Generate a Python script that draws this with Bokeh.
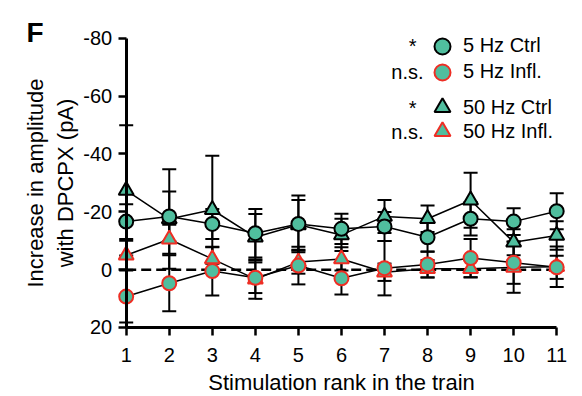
from bokeh.plotting import figure
from bokeh.models import (Range1d, FixedTicker, PrintfTickFormatter, Whisker, TeeHead,
                          ColumnDataSource, Legend, LegendItem, Label)
from bokeh.embed import file_html
from bokeh.resources import INLINE

# ---- data ----
ranks = [1, 2, 3, 4, 5, 6, 7, 8, 9, 10, 11]
ctrl5 = [-16.6, -18.4, -15.8, -12.6, -15.8, -14.1, -14.9, -11.2, -17.6, -16.6, -20.2]
ctrl5_sem = [6.0, 8.6, 5.2, 8.4, 9.8, 5.2, 5.0, 5.0, 5.8, 4.6, 6.2]
infl5 = [9.3, 4.7, 0.5, 2.8, -1.4, 3.0, -0.5, -1.8, -4.0, -2.4, -0.8]
infl5_sem = [9.0, 9.7, 8.4, 5.3, 6.5, 5.6, 9.4, 4.5, 6.6, 7.3, 4.0]
ctrl50 = [-27.4, -17.5, -20.7, -11.2, -15.5, -12.0, -18.4, -17.6, -24.0, -9.5, -11.8]
ctrl50_sem = [22.5, 17.2, 18.7, 8.0, 8.6, 5.6, 5.7, 4.6, 9.5, 4.5, 4.9]
infl50 = [-5.0, -10.5, -3.7, 3.3, -2.6, -3.7, 0.9, -0.3, -0.3, -0.8, -1.0]
infl50_sem = [5.0, 5.0, 4.0, 6.8, 4.0, 4.0, 3.0, 3.0, 3.0, 8.8, 7.0]
yticks = [-80, -60, -40, -20, 0, 20]
names = ["5 Hz Ctrl", "5 Hz Infl.", "50 Hz Ctrl", "50 Hz Infl."]
signif = ["*", "n.s.", "*", "n.s."]
panel_letter = "F"
xlabel = "Stimulation rank in the train"
ylabel = "Increase in amplitude\nwith DPCPX (pA)"

FONT = "Liberation Sans"
TEAL = "#50BE9E"
RED = "#EE2E24"
W, H = 580, 394

# frame fills the whole figure; both axes are pinned at x=1 / y=20
p = figure(width=W, height=H, output_backend="svg", toolbar_location=None,
           x_range=Range1d(-1.92, 11.553), y_range=Range1d(43.16, -93.03),
           min_border=0)
p.outline_line_color = None
p.grid.visible = False

# dashed zero line
p.line(x=[ranks[0], ranks[-1]], y=[0, 0], line_dash="10 5", line_width=2.5, color="black")

series = [
    ("50 Hz Infl.", infl50, infl50_sem, "triangle", RED, 15),
    ("50 Hz Ctrl", ctrl50, ctrl50_sem, "triangle", "black", 15),
    ("5 Hz Infl.", infl5, infl5_sem, "circle", RED, 14),
    ("5 Hz Ctrl", ctrl5, ctrl5_sem, "circle", "black", 14),
]
rends = {}
for name, m, s, marker, edge, sz in series:
    lower = [a - b for a, b in zip(m, s)]
    upper = [a + b for a, b in zip(m, s)]
    src = ColumnDataSource(dict(x=ranks, y=m, lower=lower, upper=upper))
    w = Whisker(source=src, base="x", lower="lower", upper="upper",
                line_width=2, line_color="black", level="underlay",
                lower_head=TeeHead(size=14, line_width=2, line_color="black"),
                upper_head=TeeHead(size=14, line_width=2, line_color="black"))
    p.add_layout(w)
    p.line("x", "y", source=src, line_width=1.5, color="black")
    rends[name] = p.scatter("x", "y", source=src, marker=marker, size=sz,
                            fill_color=TEAL, line_color=edge, line_width=2)

# axes
xa = p.xaxis[0]
xa.fixed_location = yticks[-1]
xa.ticker = FixedTicker(ticks=ranks)
xa.formatter = PrintfTickFormatter(format="%d")
xa.bounds = (ranks[0], ranks[-1])
xa.axis_label = xlabel
ya = p.yaxis[0]
ya.fixed_location = ranks[0]
ya.bounds = (yticks[0], yticks[-1])
ya.ticker = FixedTicker(ticks=yticks)
ya.formatter = PrintfTickFormatter(format="%d")
ya.axis_label = ylabel
for ax in (xa, ya):
    ax.axis_line_width = 3
    ax.major_tick_line_width = 2.5
    ax.major_tick_out = 8
    ax.major_tick_in = 0
    ax.minor_tick_line_color = None
    ax.major_label_text_font = FONT
    ax.major_label_text_font_size = "20px"
    ax.major_label_text_color = "black"
    ax.axis_label_text_font = FONT
    ax.axis_label_text_font_size = "22px"
    ax.axis_label_text_font_style = "normal"
    ax.axis_label_text_color = "black"
xa.major_label_standoff = 13
xa.axis_label_standoff = 4
ya.major_label_standoff = 6
ya.axis_label_standoff = 3

# legends: one per entry so the rows can be spaced like the reference
rows = [45.5, 71.5, 107.0, 131.0]
for n, c in zip(names, rows):
    leg = Legend(items=[LegendItem(label=n, renderers=[rends[n]])],
                 location=(422, H - (c + 20)), glyph_width=40, glyph_height=40,
                 padding=0, margin=0, label_standoff=1,
                 border_line_color=None, background_fill_alpha=0,
                 label_text_font=FONT, label_text_font_size="20px", label_text_color="black")
    p.add_layout(leg)

text_rows = [45.5, 71.5, 107.5, 131.5]
for txt, c in zip(signif, text_rows):
    p.add_layout(Label(x=416 if txt == "*" else 423, y=H - c, x_units="screen", y_units="screen",
                       text=txt, text_align="right", text_baseline="middle",
                       text_font=FONT, text_font_size="20px", text_color="black"))

p.add_layout(Label(x=26, y=H - 32, x_units="screen", y_units="screen", text=panel_letter,
                   text_font=FONT, text_font_size="28px", text_font_style="bold",
                   text_color="black", text_baseline="alphabetic"))

open("out.html", "w").write(file_html(p, INLINE))
